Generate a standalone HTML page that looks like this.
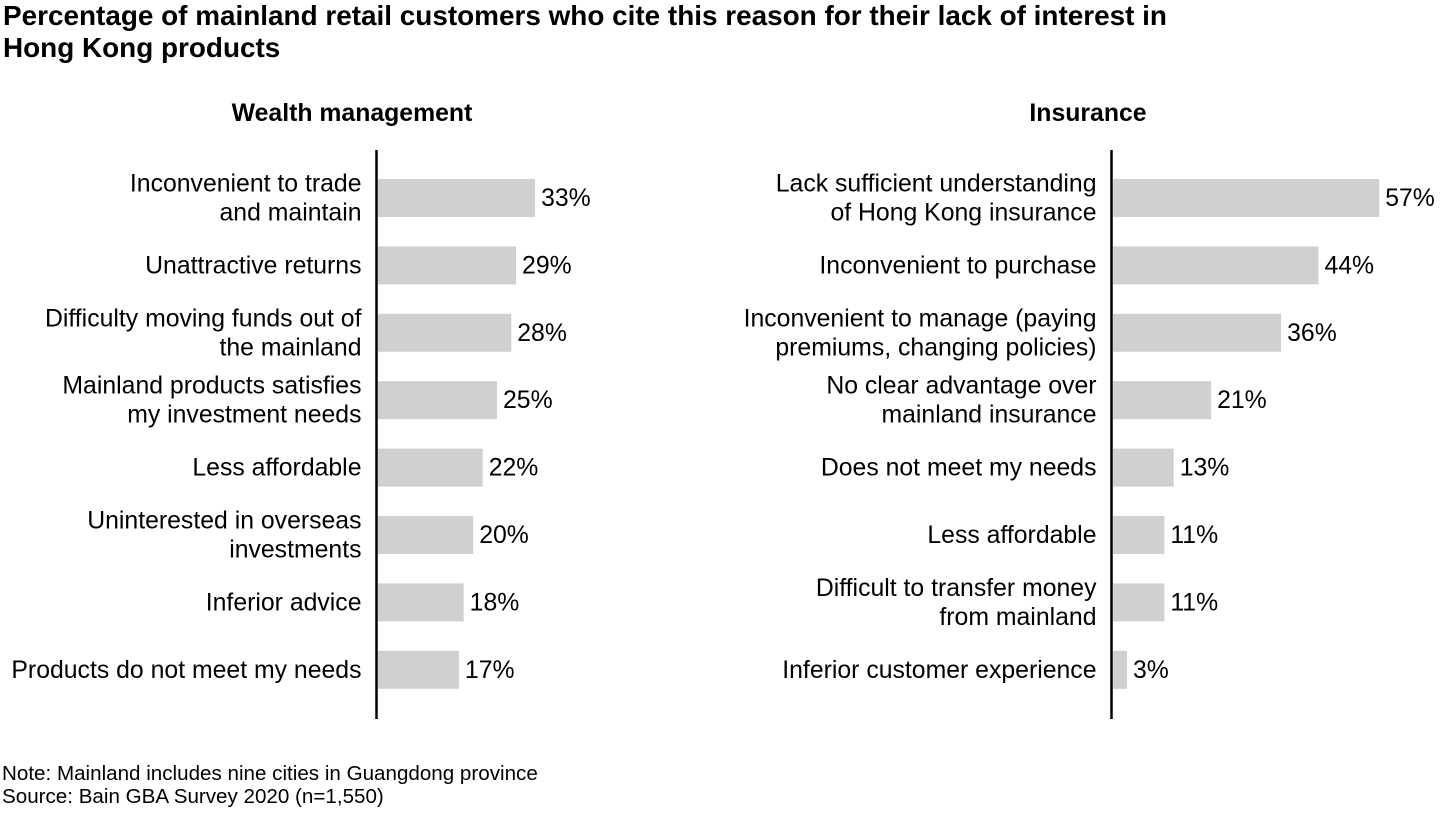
<!DOCTYPE html>
<html><head><meta charset="utf-8"><style>
body{margin:0;background:#fff;width:1440px;height:810px;overflow:hidden;font-family:"Liberation Sans",Arial,sans-serif}
</style></head><body>
<svg width="1440" height="810" xmlns="http://www.w3.org/2000/svg" font-family="Liberation Sans, Arial, sans-serif">
<text x="3" y="25" font-size="27.9" font-weight="bold" fill="#000">Percentage of mainland retail customers who cite this reason for their lack of interest in</text>
<text x="3" y="57" font-size="27.9" font-weight="bold" fill="#000">Hong Kong products</text>
<text x="352" y="121" font-size="24.8" font-weight="bold" text-anchor="middle">Wealth management</text>
<text x="1088" y="121" font-size="24.8" font-weight="bold" text-anchor="middle">Insurance</text>
<g id="left"></g>
<g id="right"></g>
<text x="2" y="780" font-size="20.6">Note: Mainland includes nine cities in Guangdong province</text>
<text x="2" y="803" font-size="20.6">Source: Bain GBA Survey 2020 (n=1,550)</text>
</svg>
<script>
const wmLabels=[["Inconvenient to trade","and maintain"],["Unattractive returns"],["Difficulty moving funds out of","the mainland"],["Mainland products satisfies","my investment needs"],["Less affordable"],["Uninterested in overseas","investments"],["Inferior advice"],["Products do not meet my needs"]];
const wmValues=[33,29,28,25,22,20,18,17];
const insLabels=[["Lack sufficient understanding","of Hong Kong insurance"],["Inconvenient to purchase"],["Inconvenient to manage (paying ","premiums, changing policies)"],["No clear advantage over","mainland insurance"],["Does not meet my needs"],["Less affordable"],["Difficult to transfer money","from mainland"],["Inferior customer experience"]];
const insValues=[57,44,36,21,13,11,11,3];
const NS="http://www.w3.org/2000/svg";
function mk(t,a,p){const e=document.createElementNS(NS,t);for(const k in a)e.setAttribute(k,a[k]);p.appendChild(e);return e;}
function panel(g,labels,values,ax,scale){
  const y0=179,step=67.4,bh=38;
  const axis=mk('line',{x1:ax,y1:150,x2:ax,y2:719,stroke:'#000','stroke-width':2.5},g);
  
  
  values.forEach((v,i)=>{
    const y=y0+i*step, x0=ax+1.5, w=v*scale;
    const r=mk('rect',{x:x0,y:y,width:w,height:bh,fill:'#d0d0d0'},g);
    
    
    const t=mk('text',{x:x0+w+6,y:y+bh/2+8,'font-size':24.8},g);
    t.textContent=v+'%';
    
    
    const L=labels[i];
    const cy=y+bh/2;
    L.forEach((s,j)=>{
      const ly=cy+8+(j-(L.length-1)/2)*29;
      const lt=mk('text',{x:ax-15,y:ly,'font-size':24.8,'text-anchor':'end'},g);
      lt.textContent=s;
      
      
    });
  });
}
panel(document.getElementById('left'),wmLabels,wmValues,376.5,4.76);
panel(document.getElementById('right'),insLabels,insValues,1111.5,4.67);
</script>
</body></html>
